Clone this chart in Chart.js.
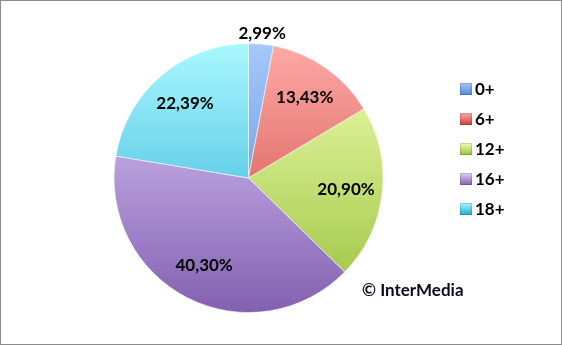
<!DOCTYPE html>
<html>
<head>
<meta charset="utf-8">
<script src="https://cdn.jsdelivr.net/npm/chart.js@4"></script>
<style>
  html, body { margin: 0; padding: 0; background: #fff; }
  #wrap { position: relative; width: 560px; height: 343px; border: 1px solid #8c8c8c; }
  canvas { display: block; }
</style>
</head>
<body>
<div id="wrap"><canvas id="grafico" width="560" height="343"></canvas></div>
<script>
// datos del grafico
const categorias = ['0+', '6+', '12+', '16+', '18+'];
const valores = [2.99, 13.43, 20.90, 40.30, 22.39];
const etiquetas = ['2,99%', '13,43%', '20,90%', '40,30%', '22,39%'];

// colores: arriba -> abajo
const coloresArriba = ['#a6c8fa', '#ffaaa6', '#f2ffb4', '#e2d0ff', '#aaf8ff'];
const coloresAbajo = ['#4f86d4', '#c8403b', '#98c23c', '#8260b0', '#22a8d2'];

const fuente = 'Lato, "Open Sans", sans-serif';

function degradado(chart, i) {
  const a = chart.chartArea;
  if (!a) return coloresArriba[i];
  const g = chart.ctx.createLinearGradient(0, a.top, 0, a.bottom);
  g.addColorStop(0, coloresArriba[i]);
  g.addColorStop(1, coloresAbajo[i]);
  return g;
}

const pluginTextos = {
  id: 'textos',
  afterDatasetsDraw(chart) {
    const ctx = chart.ctx;
    const arcos = chart.getDatasetMeta(0).data;
    ctx.save();
    ctx.font = 'bold 17px ' + fuente;
    ctx.fillStyle = '#000';
    ctx.textAlign = 'center';
    ctx.textBaseline = 'middle';
    arcos.forEach((arc, i) => {
      const p = arc.getProps(['x', 'y', 'startAngle', 'endAngle', 'outerRadius'], true);
      const ang = (p.startAngle + p.endAngle) / 2;
      const r = valores[i] < 5 ? p.outerRadius + 11 : p.outerRadius * 0.73;
      ctx.fillText(etiquetas[i], p.x + Math.cos(ang) * r, p.y + Math.sin(ang) * r);
    });

    // leyenda
    ctx.textAlign = 'left';
    categorias.forEach((c, i) => {
      const y = 88 + i * 30;
      const g = ctx.createLinearGradient(0, y - 6, 0, y + 6);
      g.addColorStop(0, coloresArriba[i]);
      g.addColorStop(1, coloresAbajo[i]);
      ctx.fillStyle = g;
      ctx.fillRect(459, y - 6, 12, 12);
      ctx.strokeStyle = 'rgba(0,0,0,0.15)';
      ctx.lineWidth = 1;
      ctx.strokeRect(459.5, y - 5.5, 11, 11);
      ctx.fillStyle = '#000';
      ctx.fillText(c, 474, y + 1);
    });

    ctx.font = 'bold 17px ' + fuente;
    ctx.fillStyle = '#0a0a1e';
    ctx.fillText('\u00A9 InterMedia', 361, 290);
    ctx.restore();
  }
};

new Chart(document.getElementById('grafico'), {
  type: 'pie',
  data: {
    labels: categorias,
    datasets: [{
      data: valores,
      backgroundColor: (c) => degradado(c.chart, c.dataIndex),
      borderColor: 'rgba(255,255,255,0.55)',
      borderWidth: 1
    }]
  },
  options: {
    responsive: false,
    animation: false,
    layout: { padding: { left: 112, right: 177, top: 42, bottom: 31 } },
    plugins: {
      legend: { display: false },
      tooltip: { enabled: false }
    }
  },
  plugins: [pluginTextos]
});
</script>
</body>
</html>
